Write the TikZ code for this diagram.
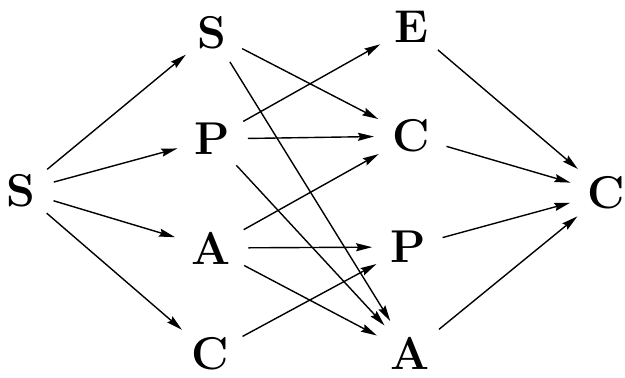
\documentclass[tikz,border=0pt]{standalone}
\usetikzlibrary{arrows.meta}
\begin{document}
\begin{tikzpicture}[x=1pt,y=1pt,
  lbl/.style={circle,inner sep=0pt,minimum size=36pt,font=\fontsize{46}{46}\selectfont\bfseries},
  arr/.style={line width=1.4pt,shorten <=12pt,shorten >=12pt,-{Stealth[length=16pt,width=8pt,inset=2pt]}}]
\useasboundingbox (0,0) rectangle (625,378);
% y = 378 - pixel y
\node[lbl] (s0) at (21,187) {S};
\node[lbl] (s1) at (212,345) {S};
\node[lbl] (p1) at (212,239) {P};
\node[lbl] (a1) at (211,130) {A};
\node[lbl] (c1) at (210,24) {C};
\node[lbl] (e2) at (411,351) {E};
\node[lbl] (c2) at (411,242) {C};
\node[lbl] (p2) at (408,131) {P};
\node[lbl] (a2) at (410,25) {A};
\node[lbl] (c3) at (606,185) {C};
\draw[arr] (s0) -- (s1);
\draw[arr] (s0) -- (p1);
\draw[arr] (s0) -- (a1);
\draw[arr] (s0) -- (c1);
\draw[arr] (s1) -- (c2);
\draw[arr] (s1) -- (a2);
\draw[arr] (p1) -- (e2);
\draw[arr] (p1) -- (c2);
\draw[arr] (p1) -- (a2);
\draw[arr] (a1) -- (c2);
\draw[arr] (a1) -- (p2);
\draw[arr] (a1) -- (a2);
\draw[arr] (c1) -- (p2);
\draw[arr] (e2) -- (c3);
\draw[arr] (c2) -- (c3);
\draw[arr] (p2) -- (c3);
\draw[arr] (a2) -- (c3);
\end{tikzpicture}
\end{document}
